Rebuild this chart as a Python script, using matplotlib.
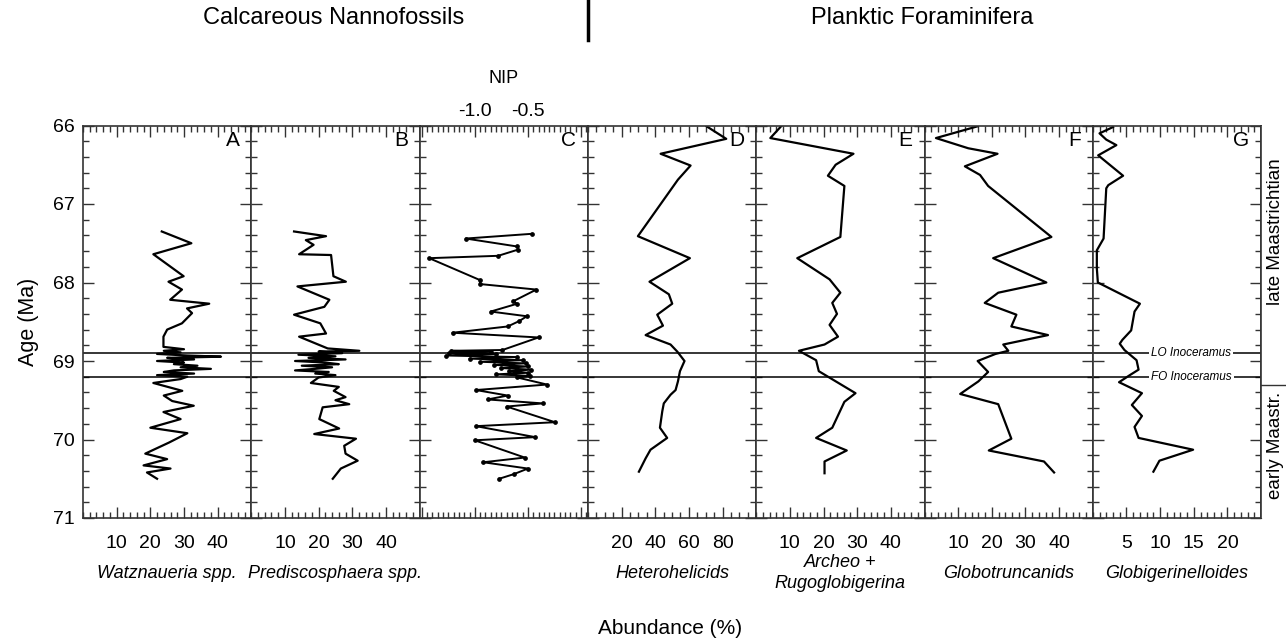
import matplotlib
matplotlib.use("Agg")
import matplotlib.pyplot as plt
from matplotlib.ticker import FixedLocator, MultipleLocator, FuncFormatter

plt.rcParams["font.family"] = ["Liberation Sans", "DejaVu Sans"]

# ---- data (age in Ma, abundance in % / NIP index) ----
a_age = [67.35, 67.50, 67.64, 67.92, 67.99, 68.09, 68.22, 68.27, 68.33, 68.39,
         68.52, 68.60, 68.69, 68.82, 68.85, 68.87, 68.89, 68.91, 68.93, 68.945,
         68.96, 68.98, 69.00, 69.02, 69.04, 69.06, 69.08, 69.10, 69.12, 69.14,
         69.16, 69.18, 69.20, 69.23, 69.28, 69.38, 69.44, 69.51, 69.57, 69.65,
         69.74, 69.85, 69.92, 70.04, 70.18, 70.25, 70.33, 70.37, 70.42, 70.50]
a_val = [23.4, 32.2, 20.9, 29.9, 25.4, 29.4, 25.9, 37.5, 30.9, 32.4,
         29.4, 25.0, 23.9, 23.9, 30.0, 24.0, 29.0, 22.0, 31.0, 41.0,
         25.0, 33.0, 22.0, 30.0, 27.0, 34.0, 29.0, 38.0, 27.0, 24.0,
         33.0, 22.0, 31.0, 29.0, 20.9, 29.5, 24.0, 26.5, 32.9, 23.9,
         29.0, 20.0, 31.0, 25.5, 18.5, 25.0, 18.0, 26.0, 19.0, 22.0]

b_age = [67.35, 67.41, 67.46, 67.52, 67.64, 67.65, 67.92, 67.99, 68.05, 68.22,
         68.31, 68.41, 68.52, 68.65, 68.69, 68.84, 68.87, 68.88, 68.90, 68.92,
         68.94, 68.96, 68.98, 69.00, 69.02, 69.04, 69.06, 69.08, 69.10, 69.12,
         69.14, 69.16, 69.18, 69.21, 69.28, 69.33, 69.38, 69.46, 69.50, 69.55,
         69.59, 69.74, 69.86, 69.93, 69.99, 70.08, 70.18, 70.27, 70.37, 70.50]
b_val = [12.7, 22.2, 16.2, 18.5, 14.2, 23.7, 24.4, 28.1, 13.7, 23.2,
         21.7, 12.7, 20.5, 22.2, 14.2, 22.7, 32.1, 20.0, 27.0, 14.0,
         25.0, 17.0, 28.0, 13.0, 22.0, 26.0, 15.0, 24.0, 19.0, 13.0,
         23.0, 19.0, 25.0, 20.0, 17.7, 26.0, 24.5, 28.0, 25.0, 29.1,
         21.2, 20.2, 26.1, 18.7, 31.1, 27.6, 28.0, 31.6, 26.6, 24.2]

c_age = [67.38, 67.44, 67.54, 67.58, 67.66, 67.69, 67.97, 68.02, 68.09, 68.24,
         68.27, 68.37, 68.43, 68.49, 68.56, 68.64, 68.70, 68.86, 68.87, 68.88,
         68.90, 68.91, 68.93, 68.95, 68.97, 68.99, 69.01, 69.03, 69.05, 69.07,
         69.09, 69.11, 69.13, 69.15, 69.17, 69.19, 69.21, 69.30, 69.37, 69.44,
         69.49, 69.54, 69.58, 69.78, 69.83, 69.97, 70.01, 70.23, 70.29, 70.37,
         70.44, 70.50]
c_val = [-0.465, -1.085, -0.607, -0.59, -0.78, -1.43, -0.95, -0.95, -0.42, -0.64,
         -0.60, -0.85, -0.51, -0.58, -0.69, -1.21, -0.40, -0.74, -1.22, -0.85,
         -1.24, -0.80, -1.27, -0.60, -1.05, -0.55, -0.95, -0.52, -0.82, -0.50,
         -0.75, -0.47, -0.68, -0.50, -0.80, -0.48, -0.60, -0.32, -0.99, -0.69,
         -0.88, -0.36, -0.70, -0.245, -0.99, -0.43, -1.00, -0.53, -0.92, -0.50,
         -0.63, -0.77]

d_age = [66.01, 66.17, 66.36, 66.51, 66.69, 67.41, 67.69, 67.99, 68.15, 68.27,
         68.41, 68.55, 68.67, 68.79, 68.88, 69.00, 69.13, 69.26, 69.37, 69.43,
         69.54, 69.64, 69.85, 69.98, 70.13, 70.24, 70.41]
d_val = [70.5, 82.2, 43.2, 61.0, 53.5, 29.7, 60.6, 36.6, 48.1, 50.1,
         41.2, 44.6, 34.3, 49.1, 53.1, 57.4, 54.7, 53.5, 52.1, 49.1,
         45.1, 44.2, 42.8, 47.1, 37.2, 34.3, 30.3]

e_age = [66.01, 66.16, 66.36, 66.50, 66.64, 66.77, 67.42, 67.69, 67.96, 68.13,
         68.26, 68.40, 68.54, 68.69, 68.79, 68.87, 68.99, 69.13, 69.41, 69.52,
         69.85, 69.98, 70.14, 70.28, 70.43]
e_val = [7.4, 4.2, 28.9, 23.6, 21.3, 26.2, 25.0, 12.2, 21.8, 25.0,
         22.6, 24.0, 21.8, 24.3, 20.3, 12.7, 17.8, 18.6, 29.5, 26.2,
         22.6, 17.8, 26.9, 20.3, 20.3]

f_age = [66.01, 66.16, 66.29, 66.36, 66.52, 66.63, 66.77, 67.42, 67.69, 68.00,
         68.13, 68.26, 68.41, 68.56, 68.67, 68.79, 68.87, 68.91, 69.00, 69.14,
         69.26, 69.42, 69.55, 69.99, 70.14, 70.28, 70.42]
f_val = [15.8, 3.4, 13.0, 21.7, 12.0, 16.5, 18.9, 37.7, 20.4, 36.2,
         21.9, 17.9, 27.3, 25.8, 36.7, 23.4, 24.9, 21.1, 15.8, 18.9,
         16.0, 10.6, 21.9, 25.8, 19.1, 35.5, 38.5]

g_age = [66.02, 66.10, 66.18, 66.25, 66.38, 66.64, 66.76, 66.80, 67.44, 67.59,
         67.82, 68.00, 68.27, 68.37, 68.61, 68.73, 68.78, 68.86, 68.99, 69.11,
         69.18, 69.27, 69.41, 69.56, 69.70, 69.84, 69.98, 70.13, 70.27, 70.41]
g_val = [3.0, 1.0, 2.0, 3.5, 0.8, 4.5, 2.3, 2.0, 1.6, 0.6,
         0.6, 0.75, 7.0, 6.2, 5.7, 4.4, 4.0, 4.7, 6.5, 6.8,
         5.5, 3.9, 7.3, 5.8, 7.3, 6.2, 6.8, 14.9, 9.9, 9.0]

panel_letters = ["A", "B", "C", "D", "E", "F", "G"]
species = ["Watznaueria spp.", "Prediscosphaera spp.", "", "Heterohelicids",
           "Archeo +\nRugoglobigerina", "Globotruncanids", "Globigerinelloides"]
xlims = [(0, 50), (0, 50), (-1.52, 0.065), (0, 100), (0, 50), (0, 50), (0, 25)]
major_ticks = [[10, 20, 30, 40], [10, 20, 30, 40], [-1.5, -1.0, -0.5, 0.0],
               [20, 40, 60, 80], [10, 20, 30, 40], [10, 20, 30, 40], [5, 10, 15, 20]]
minor_steps = [2, 2, 0.05, 5, 2, 2, 1]
series = [(a_val, a_age), (b_val, b_age), (c_val, c_age), (d_val, d_age),
          (e_val, e_age), (f_val, f_age), (g_val, g_age)]

lo_age = 68.9
fo_age = 69.2
stage_boundary = 69.3

# ---- layout ----
W, H = 1286, 643
fig = plt.figure(figsize=(W / 100, H / 100), dpi=100)

left0 = 83 / W
pw = 168.3 / W
bottom = 1 - 518 / H
ph = (518 - 125.5) / H
spine_col = "#333333"

axes = []
for i in range(7):
    ax = fig.add_axes([left0 + i * pw, bottom, pw, ph])
    axes.append(ax)

    x, y = series[i]
    if i == 2:
        ax.plot(x, y, color="black", lw=1.4, marker="o", ms=2.4)
    else:
        ax.plot(x, y, color="black", lw=1.6)

    ax.set_xlim(*xlims[i])
    ax.set_ylim(71, 66)

    ax.axhline(lo_age, color="black", lw=1.1)
    ax.axhline(fo_age, color="black", lw=1.1)

    ax.xaxis.set_major_locator(FixedLocator(major_ticks[i]))
    ax.xaxis.set_minor_locator(MultipleLocator(minor_steps[i]))
    ax.yaxis.set_major_locator(MultipleLocator(1))
    ax.yaxis.set_minor_locator(MultipleLocator(0.2))

    ax.tick_params(which="both", direction="in", top=True, bottom=True,
                   left=True, right=True, colors=spine_col, width=1.0)
    ax.tick_params(which="major", length=8, labelsize=14,
                   labelcolor="black", pad=12)
    ax.tick_params(which="minor", length=4)

    for s in ax.spines.values():
        s.set_color(spine_col)
        s.set_linewidth(1.2)

    if i != 0:
        ax.tick_params(labelleft=False)
    else:
        ax.tick_params(axis="y", pad=6)
        ax.set_ylabel("Age (Ma)", fontsize=15.5, labelpad=10)

    if i == 2:
        ax.tick_params(axis="x", labelbottom=False, labeltop=True, pad=4)
        ax.xaxis.set_major_formatter(
            FuncFormatter(lambda v, p: f"{v:.1f}" if v in (-1.0, -0.5) else "")
        )
        ax.text(0.5, 1.121, "NIP", transform=ax.transAxes,
                ha="center", va="center", fontsize=13)
    else:
        ax.xaxis.set_major_formatter(FuncFormatter(lambda v, p: f"{v:g}"))

    ax.text(0.93, 0.963, panel_letters[i], transform=ax.transAxes,
            ha="right", va="center", fontsize=15)

    if species[i]:
        fig.text(left0 + (i + 0.5) * pw, 1 - 573 / H, species[i],
                 ha="center", va="center", fontsize=13, style="italic",
                 linespacing=1.3)

# boundary labels in panel G
g_ax = axes[6]
for age, lab in [(lo_age, "LO Inoceramus"), (fo_age, "FO Inoceramus")]:
    g_ax.text(14.6, age, lab, ha="center", va="center", fontsize=8.5,
              style="italic", zorder=5,
              bbox=dict(facecolor="white", edgecolor="none", pad=1.5))

# stage column
st = fig.add_axes([1261 / W, bottom, 30 / W, ph])
st.set_xlim(0, 1)
st.set_ylim(71, 66)
st.set_xticks([])
st.set_yticks([])
for name, s in st.spines.items():
    s.set_visible(name == "left")
st.spines["left"].set_color(spine_col)
st.spines["left"].set_linewidth(1.2)
st.axhline(stage_boundary, color=spine_col, lw=1.0)
st.text(14.5 / 30, 67.35, "late Maastrichtian", rotation=90,
        ha="center", va="center", fontsize=13.5)
st.text(14.5 / 30, 70.08, "early Maastr.", rotation=90,
        ha="center", va="center", fontsize=13.5)

# headers
fig.text(334 / W, 1 - 18 / H, "Calcareous Nannofossils",
         ha="center", va="center", fontsize=17)
fig.text(922 / W, 1 - 18 / H, "Planktic Foraminifera",
         ha="center", va="center", fontsize=17)
fig.add_artist(plt.Line2D([588 / W, 588 / W], [1.0, 1 - 40 / H],
                          color="black", lw=2.5))

fig.text(670 / W, 1 - 628 / H, "Abundance (%)",
         ha="center", va="center", fontsize=15)

fig.savefig("out.png", dpi=100)
